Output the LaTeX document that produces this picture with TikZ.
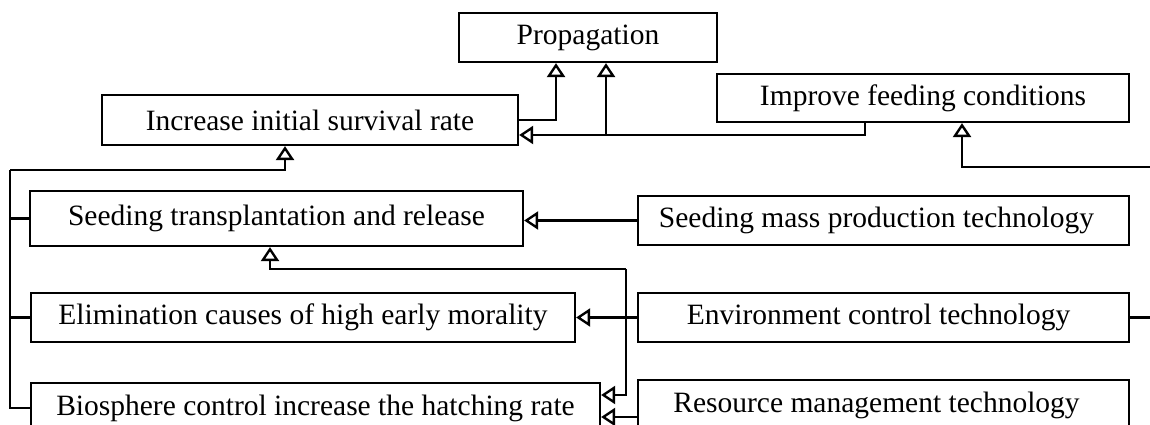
\documentclass[tikz,border=0pt]{standalone}
\usepackage{fontspec}
\setmainfont{Liberation Serif}
\usetikzlibrary{arrows.meta}
\begin{document}
\begin{tikzpicture}[x=1pt,y=-1pt,
  box/.style={draw, line width=2.2pt, inner sep=0pt, font=\fontsize{29.5}{34}\selectfont},
  conn/.style={line width=2.2pt},
  arr/.style={conn, -{Triangle[open,length=14pt,width=18pt,line width=2.4pt]}}]
\path[use as bounding box] (0,0) rectangle (1150,425);
\clip (0,0) rectangle (1150,425);
% boxes
\node[box, minimum width=258pt, minimum height=49pt] (prop) at (588,37.5) {Propagation};
\node[box, minimum width=416pt, minimum height=50pt] (inc) at (310,120) {Increase initial survival rate};
\node[box, minimum width=412pt, minimum height=48pt] (feed) at (923,98) {Improve feeding conditions};
\node[box, minimum width=493pt, minimum height=55pt] (stx) at (276.5,218.5) {Seeding transplantation and release};
\node[box, minimum width=491pt, minimum height=49pt] (smp) at (883.5,220.5) {\hspace*{-14pt}Seeding mass production technology};
\node[box, minimum width=544pt, minimum height=49pt] (elim) at (303,317.5) {Elimination causes of high early morality};
\node[box, minimum width=491pt, minimum height=49pt] (env) at (883.5,317.5) {\hspace*{-10pt}Environment control technology};
\node[box, minimum width=569pt, minimum height=50pt] (bio) at (315.5,408) {Biosphere control increase the hatching rate};
\node[box, minimum width=491pt, minimum height=50pt] (res) at (883.5,405) {\hspace*{-14pt}Resource management technology};
% free ends and junctions
\coordinate (j1) at (606,135);
\coordinate (bus) at (10,170);
\coordinate (v1) at (626,269);
\coordinate (fR) at (1150,167);
\coordinate (eR) at (1150,317.5);
% connectors
\draw[arr] (inc.east) -| ([xshift=-32pt]prop.south);
\draw[arr] ([xshift=-58pt]feed.south) |- ([yshift=-15pt]inc.east);
\draw[arr] (j1) -- (j1 |- prop.south);
\draw[arr] (fR) -| ([xshift=39pt]feed.south);
\draw[arr] (bus) -| ([xshift=-25pt]inc.south);
\draw[conn] (bus) |- (bio.west);
\draw[conn] (stx.west -| bus) -- (stx.west);
\draw[conn] (elim.west -| bus) -- (elim.west);
\draw[arr] (smp.west) -- (smp.west -| stx.east);
\draw[arr] (env.west) -- (elim.east);
\draw[conn] (env.east) -- (eR);
\draw[arr] (v1) -| ([xshift=-6.5pt]stx.south);
\draw[arr] (v1) |- ([yshift=13pt]bio.east);
\draw[arr] ([yshift=-12pt]res.west) -- ([yshift=-12pt]res.west -| bio.east);
\end{tikzpicture}
\end{document}
